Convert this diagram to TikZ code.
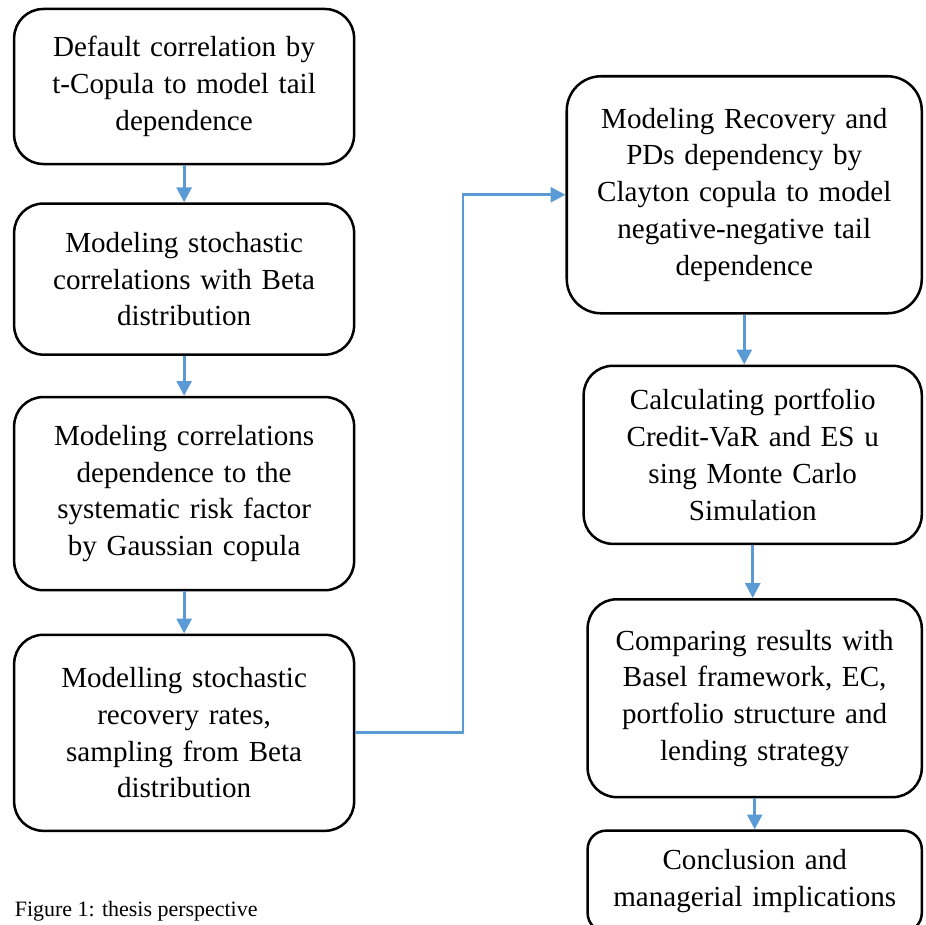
\documentclass[tikz,border=0pt]{standalone}
\usepackage{fontspec}
\setmainfont{Liberation Serif}
\usepackage{xcolor}
\usetikzlibrary{arrows.meta,positioning,calc}
\definecolor{flowblue}{HTML}{5B9BD5}
\begin{document}
\begin{tikzpicture}[
			every node/.style={font=\fontsize{11}{13.9}\selectfont},
			stage/.style={draw, line width=0.95pt, rounded corners=11pt, fill=white, align=center, inner sep=0pt, text width=120pt, minimum width=128.5pt},
			rstage/.style={stage, text width=124pt, minimum width=126.3pt},
			ar/.style={-{Triangle[length=5.6pt,width=5.6pt]}, line width=1.1pt, draw=flowblue}]
			\useasboundingbox (0,0) rectangle (349.65pt,-349.65pt);
			\node[stage, minimum height=58.6pt] (tcop) at (69.6pt,-32.7pt) {Default correlation by\\ t-Copula to model tail\\ dependence};
			\node[stage, minimum height=57.1pt, below=14pt of tcop] (beta) {Modeling stochastic\\ correlations with Beta\\ distribution};
			\node[stage, minimum height=73pt, below=15.1pt of beta] (gauss) {Modeling correlations\\ dependence to the\\ systematic risk factor\\ by Gaussian copula};
			\node[stage, minimum height=74.1pt, below=15.9pt of gauss] (recov) {Modelling stochastic\\ recovery rates,\\ sampling from Beta\\ distribution};
			\node[rstage, rounded corners=13pt, minimum width=134.2pt, minimum height=89.6pt, anchor=north east] (clay) at (348.9pt,-28.35pt) {Modeling Recovery and\\ PDs dependency by\\ Clayton copula to model\\ negative-negative tail\\ dependence};
			\node[rstage, minimum width=127.8pt, minimum height=67.3pt, below=18.9pt of clay.south east, anchor=north east] (cvar) {Calculating portfolio\\ Credit-VaR and ES u\\ sing Monte Carlo\\ Simulation};
			\node[rstage, minimum height=74.8pt, below=20pt of cvar.south east, anchor=north east] (comp) {Comparing results with\\ Basel framework, EC,\\ portfolio structure and\\ lending strategy};
			\node[rstage, rounded corners=7pt, minimum height=38.2pt, below=11.7pt of comp.south east, anchor=north east] (concl) {Conclusion and\\ managerial implications};
			\node[font=\fontsize{8.3}{10}\selectfont, anchor=base west, inner sep=0pt] (cap) at (5.4pt,-346.5pt) {Figure 1: thesis perspective};
			\coordinate (bend) at (175pt,0);
			\draw[ar] (tcop) -- (beta);
			\draw[ar] (beta) -- (gauss);
			\draw[ar] (gauss) -- (recov);
			\draw[ar] (recov.east) -- (recov.east -| bend) |- (clay.west);
			\draw[ar] (clay) -- (clay.south |- cvar.north);
			\draw[ar] (cvar) -- (cvar.south |- comp.north);
			\draw[ar] (comp) -- (comp.south |- concl.north);
		\end{tikzpicture}
\end{document}
